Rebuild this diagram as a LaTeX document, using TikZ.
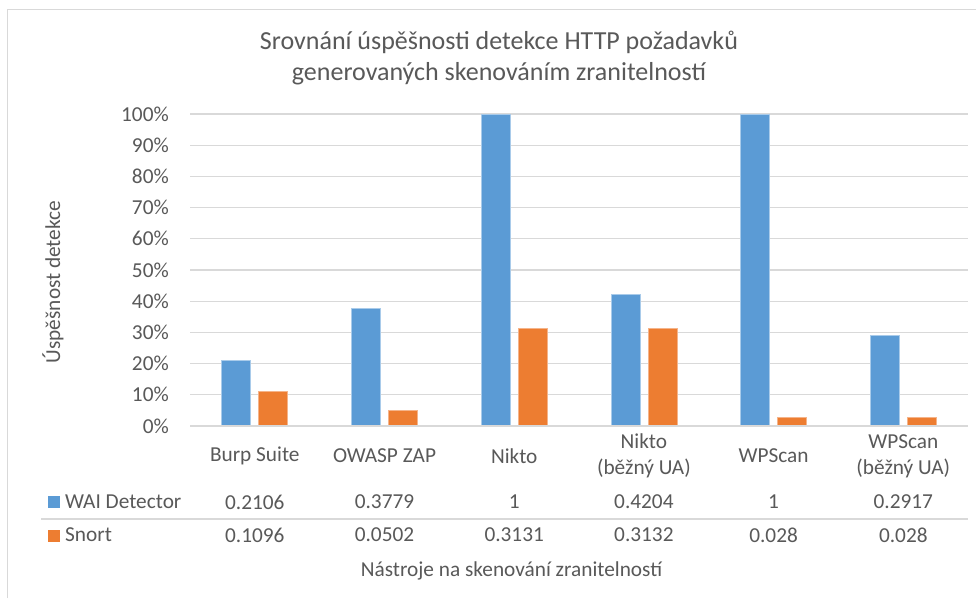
\documentclass[tikz,border=0pt]{standalone}
\usepackage{fontspec}
\setmainfont{Carlito}
\definecolor{txt}{HTML}{595959}
\definecolor{gridc}{HTML}{D9D9D9}
\definecolor{wai}{HTML}{5B9BD5}
\definecolor{waiedge}{HTML}{A9CBEA}
\definecolor{snort}{HTML}{ED7D31}
\definecolor{snortedge}{HTML}{F5B48A}
\begin{document}
\begin{tikzpicture}[x=1pt,y=-1pt,
  lbl/.style={text=txt,font=\fontsize{21.3}{26}\selectfont,inner sep=0pt,align=center},
  ttl/.style={text=txt,font=\fontsize{26}{31}\selectfont,inner sep=0pt,align=center},
  gridline/.style={draw=gridc,line width=1.2pt},
  waibar/.style={fill=wai,draw=waiedge,line width=0.8pt},
  snortbar/.style={fill=snort,draw=snortedge,line width=0.8pt}]
\useasboundingbox (0,0) rectangle (976,598);
\fill[white] (0,0) rectangle (976,598);
% frame
\draw[draw=gridc,line width=1.5pt] (7.5,598) -- (7.5,9.5) -- (976,9.5);
% title
\node[ttl] (title) at (499,58) {Srovnání úspěšnosti detekce HTTP požadavků\\generovaných skenováním zranitelností};
% grid and y ticks
\foreach \p in {0,...,10}{
  \pgfmathsetmacro{\yy}{426-31.2*\p}
  \draw[gridline] (190,\yy) -- (968,\yy);
  \node[lbl,anchor=east] (tick\p) at (169,\yy) {\the\numexpr\p*10\relax\%};
}
% y-axis title
\node[lbl,rotate=90] (ytitle) at (53,282) {Úspěšnost detekce};
% bars and table values
\foreach \i/\a/\b/\ta/\tb in {0/0.2106/0.1096/0.2106/0.1096,
                               1/0.3779/0.0502/0.3779/0.0502,
                               2/1/0.3131/1/0.3131,
                               3/0.4204/0.3132/0.4204/0.3132,
                               4/1/0.028/1/0.028,
                               5/0.2917/0.028/0.2917/0.028}{
  \pgfmathsetmacro{\cx}{254.8+129.7*\i}
  \pgfmathsetmacro{\ha}{426-312*\a}
  \pgfmathsetmacro{\hb}{426-312*\b}
  \draw[waibar] (\cx-33,426) rectangle (\cx-4,\ha);
  \draw[snortbar] (\cx+4,426) rectangle (\cx+33,\hb);
  \node[lbl] (va\i) at (\cx,502) {\ta};
  \node[lbl] (vb\i) at (\cx,535) {\tb};
}
% baseline axis
\draw[gridline] (190,426) -- (968,426);
% category labels
\node[lbl] (c0) at (254.8,456) {Burp Suite};
\node[lbl] (c1) at (384.5,456) {OWASP ZAP};
\node[lbl] (c2) at (514.2,456) {Nikto};
\node[lbl] (c3) at (643.9,456) {Nikto\\(běžný UA)};
\node[lbl] (c4) at (773.6,456) {WPScan};
\node[lbl] (c5) at (903.3,456) {WPScan\\(běžný UA)};
% table separator
\draw[gridline] (41,519) -- (968,519);
% legend keys
\fill[wai] (48,496) rectangle (60,508);
\fill[snort] (48,530) rectangle (60,542);
\node[lbl,anchor=west] (lw) at (65,502) {WAI Detector};
\node[lbl,anchor=west] (ls) at (65,535) {Snort};
% x-axis title
\node[lbl] (xtitle) at (511.5,571) {Nástroje na skenování zranitelností};
\end{tikzpicture}
\end{document}
